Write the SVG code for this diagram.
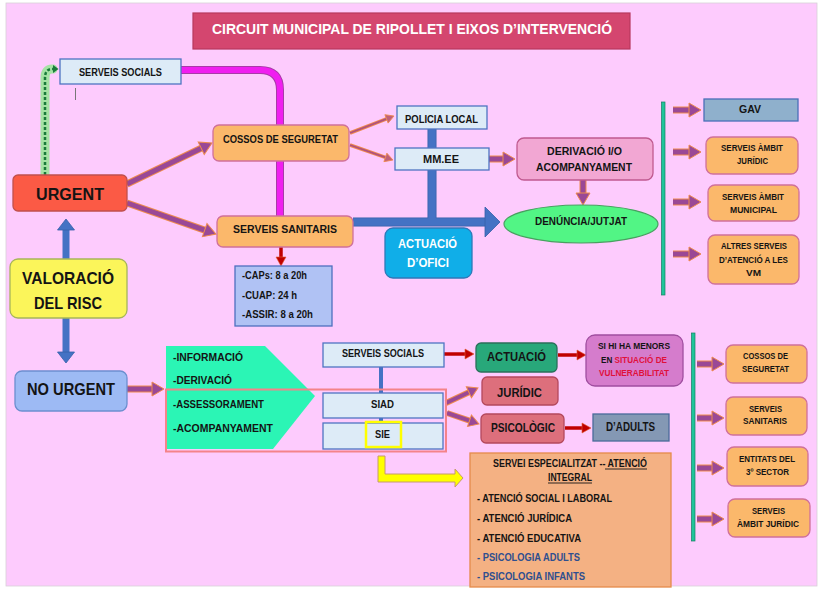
<svg xmlns="http://www.w3.org/2000/svg" width="823" height="589" viewBox="0 0 823 589">
<style>
.t{font-family:"Liberation Sans",Arial,sans-serif;font-weight:bold;fill:#141414;text-anchor:middle}
.s{text-anchor:start}
.w{fill:#ffffff}
.lb{fill:#ddebf7;stroke:#4f74c2;stroke-width:1.3}
.or{fill:#fbb86b;stroke:#d0709a;stroke-width:1.3}
.pu{stroke:#9a4896;fill:none}
.po{stroke:#ee8a4c;fill:none}
.rd{stroke:#c00000;fill:none;stroke-width:3.5}
.bl{stroke:#4472c4;fill:none}
</style>
<defs>
<marker id="mp" markerUnits="userSpaceOnUse" markerWidth="12" markerHeight="14" refX="0" refY="7" orient="auto" viewBox="0 0 12 14" style="overflow:visible"><path d="M0,0 L12,7 L0,14 Z" fill="#9a4896" stroke="#ee8a4c" stroke-width="1"/></marker>
<marker id="mm" markerUnits="userSpaceOnUse" markerWidth="10" markerHeight="12" refX="0" refY="6" orient="auto" viewBox="0 0 10 12" style="overflow:visible"><path d="M0,0 L10,6 L0,12 Z" fill="#9a4896" stroke="#ee8a4c" stroke-width="1"/></marker>
<marker id="ms" markerUnits="userSpaceOnUse" markerWidth="8" markerHeight="9" refX="0" refY="4.5" orient="auto" viewBox="0 0 8 9" style="overflow:visible"><path d="M0,0 L8,4.5 L0,9 Z" fill="#c0607a" stroke="#ee8a4c" stroke-width="0.8"/></marker>
<marker id="mr" markerUnits="userSpaceOnUse" markerWidth="9" markerHeight="10" refX="0" refY="5" orient="auto" viewBox="0 0 9 10" style="overflow:visible"><path d="M0,0 L9,5 L0,10 Z" fill="#c00000" stroke="#e06030" stroke-width="0.6"/></marker>
<marker id="mb" markerUnits="userSpaceOnUse" markerWidth="11" markerHeight="17" refX="0" refY="8.5" orient="auto" viewBox="0 0 11 17" style="overflow:visible"><path d="M0,0 L11,8.5 L0,17 Z" fill="#4472c4" stroke="#3560a8" stroke-width="0.8"/></marker>
</defs>

<rect x="6" y="3" width="811" height="583" fill="#fdcbfd" stroke="#d8d0d8" stroke-width="0.8"/>

<g id="title">
<rect x="193" y="13" width="437" height="36" fill="#d4466f" stroke="#b8385e" stroke-width="1.2"/>
<text class="t w" x="412" y="33.5" font-size="15" textLength="400" lengthAdjust="spacingAndGlyphs">CIRCUIT MUNICIPAL DE RIPOLLET I EIXOS D’INTERVENCIÓ</text>
</g>

<g id="connectors">
<path d="M45,175 V78 Q45,69 52,69 H53" stroke="#8fe88f" stroke-width="9" fill="none" stroke-linecap="round" opacity="0.8"/>
<path d="M45,175 V78 Q45,69 52,69 H53" stroke="#1a7a3a" stroke-width="2.5" fill="none" stroke-dasharray="3 2"/>
<polygon points="53,65 58.5,69 53,73" fill="#1a7a3a"/>
<path d="M181,70 H260 Q280,70 280,90 V216" stroke="#a83aa8" stroke-width="8" fill="none"/>
<path d="M181,70 H260 Q280,70 280,90 V216" stroke="#f01ef0" stroke-width="6" fill="none"/>
<path d="M353,222 H486 M432,129 V222" stroke="#3560a8" stroke-width="9" fill="none"/>
<path d="M353,222 H486 M432,129 V222" stroke="#4472c4" stroke-width="7.5" fill="none"/>
<polygon points="485,207 500,222 485,237" fill="#4472c4" stroke="#3560a8" stroke-width="0.8"/>
<g stroke-width="7" class="po">
<line x1="127" y1="184" x2="201.2" y2="148.2"/>
<line x1="127" y1="203" x2="204.7" y2="230.1"/>
<line x1="489" y1="159" x2="503" y2="159"/>
<line x1="583" y1="180" x2="583" y2="193"/>
<line x1="673" y1="110" x2="689" y2="110"/>
<line x1="673" y1="152" x2="689" y2="152"/>
<line x1="673" y1="202" x2="689" y2="202"/>
<line x1="673" y1="254" x2="689" y2="254"/>
<line x1="127" y1="389" x2="152" y2="389"/>
<line x1="697" y1="364" x2="712" y2="364"/>
<line x1="697" y1="418" x2="712" y2="418"/>
<line x1="697" y1="468" x2="712" y2="468"/>
<line x1="697" y1="519" x2="712" y2="519"/>
</g>
<g stroke-width="5" class="pu" marker-end="url(#mp)">
<line x1="127" y1="184" x2="201.2" y2="148.2"/>
<line x1="127" y1="203" x2="204.7" y2="230.1"/>
<line x1="489" y1="159" x2="503" y2="159"/>
<line x1="583" y1="180" x2="583" y2="193"/>
<line x1="673" y1="110" x2="689" y2="110"/>
<line x1="673" y1="152" x2="689" y2="152"/>
<line x1="673" y1="202" x2="689" y2="202"/>
<line x1="673" y1="254" x2="689" y2="254"/>
<line x1="127" y1="389" x2="152" y2="389"/>
<line x1="697" y1="364" x2="712" y2="364"/>
<line x1="697" y1="418" x2="712" y2="418"/>
<line x1="697" y1="468" x2="712" y2="468"/>
<line x1="697" y1="519" x2="712" y2="519"/>
</g>
<g>
<line x1="446" y1="403" x2="468.9" y2="392.2" class="po" stroke-width="6"/>
<line x1="447" y1="413" x2="469.5" y2="420.7" class="po" stroke-width="6"/>
<line x1="446" y1="403" x2="468.9" y2="392.2" class="pu" stroke-width="4" marker-end="url(#mm)"/>
<line x1="447" y1="413" x2="469.5" y2="420.7" class="pu" stroke-width="4" marker-end="url(#mm)"/>
<line x1="350" y1="133" x2="386.5" y2="118.9" class="po" stroke-width="3.5"/>
<line x1="350" y1="145" x2="385.4" y2="157.4" class="po" stroke-width="3.5"/>
<line x1="350" y1="133" x2="386.5" y2="118.9" stroke="#b0507e" stroke-width="1.8" marker-end="url(#ms)"/>
<line x1="350" y1="145" x2="385.4" y2="157.4" stroke="#b0507e" stroke-width="1.8" marker-end="url(#ms)"/>
</g>
<g class="rd" marker-end="url(#mr)">
<line x1="281" y1="247" x2="281" y2="257"/>
<line x1="444" y1="354" x2="465" y2="354"/>
<line x1="558" y1="355" x2="577" y2="355"/>
<line x1="565" y1="428" x2="582" y2="428"/>
</g>
<g class="bl" stroke-width="7" marker-end="url(#mb)">
<line x1="66" y1="259" x2="66" y2="230"/>
<line x1="66" y1="318" x2="66" y2="352"/>
</g>
<line x1="381" y1="366" x2="381" y2="424" stroke="#4472c4" stroke-width="4"/>
<polygon points="378,456 385,456 385,474 455,474 455,469 463,478 455,487 455,482 378,482" fill="#ffff00" stroke="#c49a6c" stroke-width="1"/>
<rect x="661.5" y="102" width="3.5" height="193" fill="#1fc49a" stroke="#128060" stroke-width="0.7"/>
<rect x="691.5" y="333" width="3.5" height="208" fill="#1fc49a" stroke="#128060" stroke-width="0.7"/>
<line x1="75.5" y1="88" x2="75.5" y2="100" stroke="#777" stroke-width="1"/>
</g>

<g id="serveis-socials-top">
<rect class="lb" x="60" y="59" width="121" height="25"/>
<text class="t" x="120.5" y="75.5" font-size="10.5" textLength="83" lengthAdjust="spacingAndGlyphs">SERVEIS SOCIALS</text>
</g>
<g id="urgent">
<rect x="13" y="175" width="114" height="36" rx="5" fill="#fb5a45" stroke="#c0504d" stroke-width="1.3"/>
<text class="t" x="70" y="199.5" font-size="16.5" textLength="68" lengthAdjust="spacingAndGlyphs">URGENT</text>
</g>
<g id="cossos">
<rect class="or" x="213" y="125" width="136" height="36" rx="6"/>
<text class="t" x="280.5" y="143" font-size="11" textLength="115" lengthAdjust="spacingAndGlyphs">COSSOS DE SEGURETAT</text>
</g>
<g id="sanitaris">
<rect class="or" x="217" y="216" width="136" height="31" rx="6"/>
<text class="t" x="285" y="233" font-size="11" textLength="104" lengthAdjust="spacingAndGlyphs">SERVEIS SANITARIS</text>
</g>
<g id="policia">
<rect class="lb" x="397" y="106" width="90" height="23"/>
<text class="t" x="441.5" y="122.5" font-size="10.5" textLength="73" lengthAdjust="spacingAndGlyphs">POLICIA LOCAL</text>
</g>
<g id="mmee">
<rect class="lb" x="395" y="148" width="94" height="22"/>
<text class="t" x="441" y="163" font-size="10.5" textLength="36" lengthAdjust="spacingAndGlyphs">MM.EE</text>
</g>
<g id="derivacio">
<rect x="517" y="138" width="136" height="42" rx="7" fill="#f2a7d3" stroke="#c05a90" stroke-width="1.3"/>
<text class="t" x="584.5" y="155" font-size="10.5" textLength="75" lengthAdjust="spacingAndGlyphs">DERIVACIÓ I/O</text>
<text class="t" x="584" y="171" font-size="10.5" textLength="96" lengthAdjust="spacingAndGlyphs">ACOMPANYAMENT</text>
</g>
<g id="denuncia">
<ellipse cx="581" cy="224" rx="77" ry="19" fill="#52f585" stroke="#48a060" stroke-width="1.2"/>
<text class="t" x="581" y="225" font-size="10.5" textLength="92" lengthAdjust="spacingAndGlyphs">DENÚNCIA/JUTJAT</text>
</g>
<g id="actuacio-ofici">
<rect x="385" y="228" width="87" height="50" rx="8" fill="#10aee8" stroke="#2f78b8" stroke-width="1.3"/>
<text class="t w" x="427.5" y="248" font-size="13" textLength="59" lengthAdjust="spacingAndGlyphs">ACTUACIÓ</text>
<text class="t w" x="428" y="267" font-size="13" textLength="42" lengthAdjust="spacingAndGlyphs">D’OFICI</text>
</g>
<g id="caps">
<rect x="235" y="266" width="97" height="60" fill="#b0c2f4" stroke="#4f6fbf" stroke-width="1.3"/>
<text class="t s" x="242" y="279" font-size="10" textLength="65" lengthAdjust="spacingAndGlyphs">-CAPs: 8 a 20h</text>
<text class="t s" x="242" y="299" font-size="10" textLength="55" lengthAdjust="spacingAndGlyphs">-CUAP: 24 h</text>
<text class="t s" x="242" y="318" font-size="10" textLength="71" lengthAdjust="spacingAndGlyphs">-ASSIR: 8 a 20h</text>
</g>
<g id="gav">
<rect x="704" y="99" width="94" height="22" fill="#8fb0cc" stroke="#4a6fb8" stroke-width="1.3"/>
<text class="t" x="750" y="113" font-size="10.5" textLength="22" lengthAdjust="spacingAndGlyphs">GAV</text>
</g>
<g id="ambit-juridic-top">
<rect class="or" x="706" y="137" width="92" height="37" rx="7"/>
<text class="t" x="752" y="151" font-size="9.5" textLength="62" lengthAdjust="spacingAndGlyphs">SERVEIS ÀMBIT</text>
<text class="t" x="752.5" y="164" font-size="9.5" textLength="31" lengthAdjust="spacingAndGlyphs">JURÍDIC</text>
</g>
<g id="ambit-municipal">
<rect class="or" x="708" y="185" width="91" height="36" rx="7"/>
<text class="t" x="753" y="200" font-size="9.5" textLength="62" lengthAdjust="spacingAndGlyphs">SERVEIS ÀMBIT</text>
<text class="t" x="753.5" y="213" font-size="9.5" textLength="47" lengthAdjust="spacingAndGlyphs">MUNICIPAL</text>
</g>
<g id="altres-serveis">
<rect class="or" x="708" y="235" width="91" height="49" rx="7"/>
<text class="t" x="754" y="249" font-size="9.5" textLength="66" lengthAdjust="spacingAndGlyphs">ALTRES SERVEIS</text>
<text class="t" x="753.5" y="263" font-size="9.5" textLength="69" lengthAdjust="spacingAndGlyphs">D’ATENCIÓ A LES</text>
<text class="t" x="753.5" y="276" font-size="9.5" textLength="15" lengthAdjust="spacingAndGlyphs">VM</text>
</g>
<g id="valoracio">
<rect x="10" y="259" width="117" height="59" rx="8" fill="#fbf55a" stroke="#a6b55a" stroke-width="1.3"/>
<text class="t" x="68" y="284" font-size="17" textLength="92" lengthAdjust="spacingAndGlyphs">VALORACIÓ</text>
<text class="t" x="68" y="309" font-size="17" textLength="68" lengthAdjust="spacingAndGlyphs">DEL RISC</text>
</g>
<g id="no-urgent">
<rect x="15" y="371" width="112" height="40" rx="7" fill="#9dbaf4" stroke="#6c8fcf" stroke-width="1.3"/>
<text class="t" x="71" y="394.5" font-size="17" textLength="88" lengthAdjust="spacingAndGlyphs">NO URGENT</text>
</g>
<g id="accions">
<polygon points="166,346 265,346 315,396 273,449 166,449" fill="#2bf5b5"/>
<text class="t s" x="173" y="361" font-size="10.5" textLength="70" lengthAdjust="spacingAndGlyphs">-INFORMACIÓ</text>
<text class="t s" x="173" y="384" font-size="10.5" textLength="59" lengthAdjust="spacingAndGlyphs">-DERIVACIÓ</text>
<text class="t s" x="173" y="408" font-size="10.5" textLength="91" lengthAdjust="spacingAndGlyphs">-ASSESSORAMENT</text>
<text class="t s" x="173" y="432" font-size="10.5" textLength="100" lengthAdjust="spacingAndGlyphs">-ACOMPANYAMENT</text>
</g>
<g id="grup-siad-sie">
<rect x="166" y="389.5" width="280" height="62" fill="none" stroke="#f4838a" stroke-width="2"/>
</g>
<g id="serveis-socials-bottom">
<rect class="lb" x="323" y="343" width="121" height="24"/>
<text class="t" x="383" y="357" font-size="10.5" textLength="82" lengthAdjust="spacingAndGlyphs">SERVEIS SOCIALS</text>
</g>
<g id="siad">
<rect class="lb" x="323" y="393" width="120" height="25"/>
<text class="t" x="382.5" y="408" font-size="10.5" textLength="23" lengthAdjust="spacingAndGlyphs">SIAD</text>
</g>
<g id="sie">
<rect class="lb" x="323" y="423" width="120" height="26"/>
<rect x="366" y="422" width="35" height="25" fill="none" stroke="#ffff00" stroke-width="2.5"/>
<text class="t" x="382.5" y="438" font-size="10.5" textLength="15" lengthAdjust="spacingAndGlyphs">SIE</text>
</g>
<g id="actuacio">
<rect x="476" y="343" width="81" height="29" rx="5" fill="#28a87a" stroke="#2a6f5a" stroke-width="1.3"/>
<text class="t" x="516.5" y="361" font-size="13" textLength="59" lengthAdjust="spacingAndGlyphs">ACTUACIÓ</text>
</g>
<g id="menors">
<rect x="586" y="335" width="97" height="51" rx="9" fill="#d57ccc" stroke="#a04ea0" stroke-width="1.3"/>
<text class="t" x="634" y="349" font-size="9.5" textLength="72" lengthAdjust="spacingAndGlyphs">SI HI HA MENORS</text>
<text class="t s" x="601" y="363" font-size="9.5" textLength="11.3" lengthAdjust="spacingAndGlyphs">EN</text>
<text class="t s" x="614.6" y="363" font-size="9.5" textLength="52.4" lengthAdjust="spacingAndGlyphs" style="fill:#e0103a">SITUACIÓ DE</text>
<text class="t" x="634" y="376" font-size="9.5" textLength="70" lengthAdjust="spacingAndGlyphs" style="fill:#e0103a">VULNERABILITAT</text>
</g>
<g id="juridic">
<rect x="482" y="377" width="76" height="28" rx="5" fill="#dd6f7c" stroke="#b4485c" stroke-width="1.3"/>
<text class="t" x="519.5" y="397" font-size="13" textLength="45" lengthAdjust="spacingAndGlyphs">JURÍDIC</text>
</g>
<g id="psicologic">
<rect x="481" y="414" width="83" height="29" rx="5" fill="#dd6f7c" stroke="#b4485c" stroke-width="1.3"/>
<text class="t" x="523" y="432" font-size="13" textLength="64" lengthAdjust="spacingAndGlyphs">PSICOLÒGIC</text>
</g>
<g id="adults">
<rect x="593" y="414" width="76" height="27" fill="#8498b4" stroke="#4a6a9a" stroke-width="1.3"/>
<text class="t" x="630.5" y="431" font-size="12" textLength="49" lengthAdjust="spacingAndGlyphs">D’ADULTS</text>
</g>
<g id="servei-especialitzat">
<rect x="470" y="453" width="201" height="134" fill="#f4b183" stroke="#e58a4a" stroke-width="1.3"/>
<text class="t s" x="493" y="467" font-size="10" textLength="154" lengthAdjust="spacingAndGlyphs">SERVEI ESPECIALITZAT -- ATENCIÓ</text>
<line x1="605" y1="469" x2="647" y2="469" stroke="#141414" stroke-width="0.9"/>
<text class="t" x="570" y="481" font-size="10" textLength="44" lengthAdjust="spacingAndGlyphs">INTEGRAL</text>
<line x1="548" y1="483" x2="592" y2="483" stroke="#141414" stroke-width="0.9"/>
<text class="t s" x="477" y="502" font-size="10" textLength="135" lengthAdjust="spacingAndGlyphs">- ATENCIÓ SOCIAL I LABORAL</text>
<text class="t s" x="477" y="522" font-size="10" textLength="95" lengthAdjust="spacingAndGlyphs">- ATENCIÓ JURÍDICA</text>
<text class="t s" x="477" y="542" font-size="10" textLength="104" lengthAdjust="spacingAndGlyphs">- ATENCIÓ EDUCATIVA</text>
<text class="t s" x="477" y="561" font-size="10" textLength="103" lengthAdjust="spacingAndGlyphs" style="fill:#2f4f8f">- PSICOLOGIA ADULTS</text>
<text class="t s" x="477" y="580" font-size="10" textLength="108" lengthAdjust="spacingAndGlyphs" style="fill:#2f4f8f">- PSICOLOGIA INFANTS</text>
</g>
<g id="cossos-right">
<rect class="or" x="726" y="345" width="81" height="38" rx="7"/>
<text class="t" x="765.5" y="359" font-size="9.5" textLength="45" lengthAdjust="spacingAndGlyphs">COSSOS DE</text>
<text class="t" x="765.5" y="372" font-size="9.5" textLength="47" lengthAdjust="spacingAndGlyphs">SEGURETAT</text>
</g>
<g id="sanitaris-right">
<rect class="or" x="726" y="397" width="81" height="38" rx="7"/>
<text class="t" x="765.5" y="412" font-size="9.5" textLength="33" lengthAdjust="spacingAndGlyphs">SERVEIS</text>
<text class="t" x="765" y="424" font-size="9.5" textLength="44" lengthAdjust="spacingAndGlyphs">SANITARIS</text>
</g>
<g id="entitats">
<rect class="or" x="727" y="447" width="81" height="39" rx="7"/>
<text class="t" x="767" y="462" font-size="9.5" textLength="56" lengthAdjust="spacingAndGlyphs">ENTITATS DEL</text>
<text class="t" x="767.5" y="475" font-size="9.5" textLength="43" lengthAdjust="spacingAndGlyphs">3º SECTOR</text>
</g>
<g id="juridic-right">
<rect class="or" x="728" y="499" width="82" height="38" rx="7"/>
<text class="t" x="768.5" y="514" font-size="9.5" textLength="33" lengthAdjust="spacingAndGlyphs">SERVEIS</text>
<text class="t" x="768" y="527" font-size="9.5" textLength="62" lengthAdjust="spacingAndGlyphs">ÀMBIT JURÍDIC</text>
</g>
</svg>
